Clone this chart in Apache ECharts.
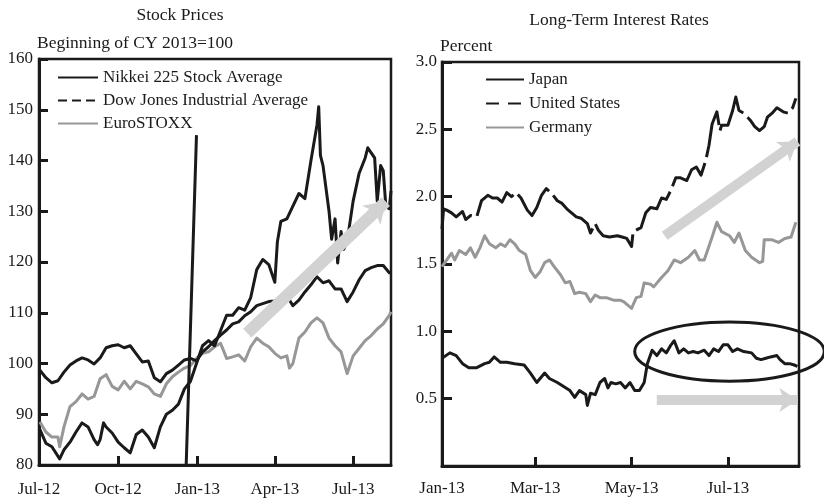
<!DOCTYPE html>
<html>
<head>
<meta charset="utf-8">
<script src="https://cdn.jsdelivr.net/npm/echarts@6/dist/echarts.min.js"></script>
<style>
html, body { margin: 0; padding: 0; background: #fff; }
#main { width: 824px; height: 502px; }
</style>
</head>
<body>
<div id="main"></div>
<script>
// ---- Stock Prices (Beginning of CY 2013 = 100) ----
var nikkei = [
  ['2012-07-02', 87], ['2012-07-09', 84.3], ['2012-07-16', 83.6], ['2012-07-25', 81.2], ['2012-07-30', 83],
  ['2012-08-06', 84.5], ['2012-08-13', 86.5], ['2012-08-20', 88.3], ['2012-08-27', 87.5], ['2012-09-03', 85],
  ['2012-09-07', 84], ['2012-09-10', 85], ['2012-09-14', 88.3], ['2012-09-17', 87.5], ['2012-09-24', 86.3],
  ['2012-10-01', 84.5], ['2012-10-08', 83.4], ['2012-10-15', 82.4], ['2012-10-22', 86], ['2012-10-29', 86.9],
  ['2012-11-05', 85.5], ['2012-11-12', 83.4], ['2012-11-19', 87.5], ['2012-11-26', 90], ['2012-12-03', 90.8],
  ['2012-12-10', 92], ['2012-12-17', 95], ['2012-12-24', 96.5], ['2012-12-31', 100], ['2013-01-07', 103.5],
  ['2013-01-14', 104.5], ['2013-01-21', 103.5], ['2013-01-28', 106.5], ['2013-02-04', 109.5], ['2013-02-11', 109.5],
  ['2013-02-18', 111], ['2013-02-25', 110.5], ['2013-03-04', 113], ['2013-03-11', 118.5], ['2013-03-18', 120.5],
  ['2013-03-25', 119.5], ['2013-04-01', 116], ['2013-04-04', 124], ['2013-04-08', 128], ['2013-04-15', 128.5],
  ['2013-04-22', 131], ['2013-04-29', 133.5], ['2013-05-06', 132.5], ['2013-05-13', 140], ['2013-05-20', 147],
  ['2013-05-22', 150.6], ['2013-05-24', 141], ['2013-05-27', 139], ['2013-06-03', 130], ['2013-06-06', 124.5],
  ['2013-06-10', 128.5], ['2013-06-13', 119.8], ['2013-06-17', 126], ['2013-06-20', 122.5], ['2013-06-24', 124],
  ['2013-07-01', 132], ['2013-07-08', 137.5], ['2013-07-15', 140.5], ['2013-07-18', 142.5], ['2013-07-22', 141.5],
  ['2013-07-26', 140.5], ['2013-07-29', 132], ['2013-08-02', 139], ['2013-08-05', 138], ['2013-08-08', 131],
  ['2013-08-12', 130.5], ['2013-08-14', 134]
];
var dow = [
  ['2012-07-02', 98.7], ['2012-07-09', 97.2], ['2012-07-16', 96.2], ['2012-07-23', 96.6], ['2012-07-30', 98.3],
  ['2012-08-06', 99.7], ['2012-08-13', 100.5], ['2012-08-20', 101.1], ['2012-08-27', 100.7], ['2012-09-03', 99.9],
  ['2012-09-10', 101.1], ['2012-09-17', 103.1], ['2012-09-24', 103.5], ['2012-10-01', 103.7], ['2012-10-08', 103.1],
  ['2012-10-15', 103.5], ['2012-10-22', 101.9], ['2012-10-29', 100.3], ['2012-11-05', 100.5], ['2012-11-12', 97.2],
  ['2012-11-19', 96.4], ['2012-11-26', 98], ['2012-12-03', 98.7], ['2012-12-10', 99.7], ['2012-12-17', 100.7],
  ['2012-12-24', 101], ['2012-12-31', 100.5], ['2013-01-07', 102.3], ['2013-01-14', 103.3], ['2013-01-21', 104.5],
  ['2013-01-28', 105.6], ['2013-02-04', 106.6], ['2013-02-11', 107.8], ['2013-02-18', 108.2], ['2013-02-25', 109.4],
  ['2013-03-04', 110.2], ['2013-03-11', 111.4], ['2013-03-18', 111.8], ['2013-03-25', 112.2], ['2013-04-01', 112.3],
  ['2013-04-08', 112.9], ['2013-04-15', 113.3], ['2013-04-22', 111.4], ['2013-04-29', 112.5], ['2013-05-06', 114.1],
  ['2013-05-13', 115.5], ['2013-05-20', 117.1], ['2013-05-27', 115.9], ['2013-06-03', 116.3], ['2013-06-10', 114.7],
  ['2013-06-17', 114.7], ['2013-06-24', 112.2], ['2013-07-01', 114.1], ['2013-07-08', 116.5], ['2013-07-15', 118.3],
  ['2013-07-22', 118.9], ['2013-07-29', 119.3], ['2013-08-05', 119.3], ['2013-08-12', 117.9], ['2013-08-14', 117.9]
];
var eurostoxx = [
  ['2012-07-02', 88.5], ['2012-07-09', 86.5], ['2012-07-16', 85.5], ['2012-07-23', 85.5], ['2012-07-25', 83.6],
  ['2012-07-30', 87.5], ['2012-08-06', 91.5], ['2012-08-13', 92.5], ['2012-08-20', 94], ['2012-08-27', 93],
  ['2012-09-03', 93.5], ['2012-09-10', 97], ['2012-09-17', 97.8], ['2012-09-24', 95.5], ['2012-10-01', 94.8],
  ['2012-10-08', 96.5], ['2012-10-15', 95], ['2012-10-22', 96.5], ['2012-10-29', 96], ['2012-11-05', 95.4],
  ['2012-11-12', 94], ['2012-11-19', 93.5], ['2012-11-26', 96], ['2012-12-03', 97.4], ['2012-12-10', 98.3],
  ['2012-12-17', 99.1], ['2012-12-24', 99.6], ['2012-12-31', 101], ['2013-01-07', 102], ['2013-01-14', 102.3],
  ['2013-01-21', 103.3], ['2013-01-28', 104], ['2013-02-04', 101], ['2013-02-11', 101.3], ['2013-02-18', 101.7],
  ['2013-02-25', 100.5], ['2013-03-04', 103.3], ['2013-03-11', 105], ['2013-03-18', 104], ['2013-03-25', 103.3],
  ['2013-04-01', 102], ['2013-04-08', 101.1], ['2013-04-15', 101.5], ['2013-04-18', 99.1], ['2013-04-22', 100],
  ['2013-04-29', 105], ['2013-05-06', 106.2], ['2013-05-13', 108], ['2013-05-20', 109], ['2013-05-27', 108],
  ['2013-06-03', 105], ['2013-06-10', 103.5], ['2013-06-17', 102.3], ['2013-06-24', 98], ['2013-07-01', 101.5],
  ['2013-07-08', 103], ['2013-07-15', 104.5], ['2013-07-22', 105.5], ['2013-07-29', 106.8], ['2013-08-05', 107.8],
  ['2013-08-12', 109.5], ['2013-08-14', 110.2]
];
var stockMarker = [['2012-12-19', 80], ['2012-12-31', 145]];
var stockArrow = [['2013-02-28', 106], ['2013-08-08', 131.9]];
var stockTicks = ['2012-07-01', '2012-10-01', '2013-01-01', '2013-04-01', '2013-07-01'];
var stockTickLabels = ['Jul-12', 'Oct-12', 'Jan-13', 'Apr-13', 'Jul-13'];

// ---- Long-Term Interest Rates (percent) ----
var japan = [
  ['2013-01-01', 0.80], ['2013-01-06', 0.84], ['2013-01-10', 0.82], ['2013-01-14', 0.76], ['2013-01-18', 0.73],
  ['2013-01-23', 0.73], ['2013-01-28', 0.76], ['2013-01-31', 0.77], ['2013-02-03', 0.81], ['2013-02-07', 0.77],
  ['2013-02-11', 0.77], ['2013-02-16', 0.76], ['2013-02-22', 0.75], ['2013-02-26', 0.69], ['2013-03-02', 0.62],
  ['2013-03-07', 0.69], ['2013-03-10', 0.65], ['2013-03-15', 0.62], ['2013-03-19', 0.59], ['2013-03-23', 0.56],
  ['2013-03-26', 0.51], ['2013-03-29', 0.56], ['2013-04-02', 0.53], ['2013-04-03', 0.45], ['2013-04-05', 0.54],
  ['2013-04-08', 0.53], ['2013-04-11', 0.62], ['2013-04-14', 0.65], ['2013-04-16', 0.58], ['2013-04-18', 0.62],
  ['2013-04-21', 0.61], ['2013-04-24', 0.62], ['2013-04-27', 0.58], ['2013-04-30', 0.62], ['2013-05-03', 0.56],
  ['2013-05-06', 0.56], ['2013-05-09', 0.62], ['2013-05-11', 0.76], ['2013-05-14', 0.86], ['2013-05-17', 0.82],
  ['2013-05-20', 0.87], ['2013-05-23', 0.84], ['2013-05-26', 0.90], ['2013-05-28', 0.93], ['2013-05-31', 0.84],
  ['2013-06-03', 0.87], ['2013-06-06', 0.84], ['2013-06-09', 0.85], ['2013-06-12', 0.84], ['2013-06-16', 0.86],
  ['2013-06-19', 0.82], ['2013-06-22', 0.87], ['2013-06-25', 0.85], ['2013-06-28', 0.90], ['2013-07-01', 0.90],
  ['2013-07-04', 0.85], ['2013-07-07', 0.87], ['2013-07-11', 0.85], ['2013-07-16', 0.84], ['2013-07-19', 0.80],
  ['2013-07-22', 0.79], ['2013-07-25', 0.80], ['2013-07-28', 0.81], ['2013-08-01', 0.82], ['2013-08-03', 0.79],
  ['2013-08-06', 0.76], ['2013-08-09', 0.76], ['2013-08-12', 0.75], ['2013-08-14', 0.74]
];
var unitedStates = [
  ['2013-01-01', 1.76], ['2013-01-02', 1.91], ['2013-01-04', 1.90], ['2013-01-07', 1.88], ['2013-01-10', 1.85],
  ['2013-01-14', 1.89], ['2013-01-16', 1.83], ['2013-01-19', 1.86], ['2013-01-23', 1.85], ['2013-01-24', 1.86],
  ['2013-01-26', 1.97], ['2013-01-30', 2.01], ['2013-02-02', 1.99], ['2013-02-05', 1.99], ['2013-02-08', 1.96],
  ['2013-02-11', 2.03], ['2013-02-14', 2.00], ['2013-02-17', 2.03], ['2013-02-20', 1.99], ['2013-02-24', 1.90],
  ['2013-02-27', 1.86], ['2013-03-02', 1.92], ['2013-03-05', 2.01], ['2013-03-08', 2.06], ['2013-03-11', 2.03],
  ['2013-03-15', 1.97], ['2013-03-18', 1.95], ['2013-03-21', 1.91], ['2013-03-24', 1.88], ['2013-03-27', 1.85],
  ['2013-03-30', 1.84], ['2013-04-03', 1.80], ['2013-04-05', 1.73], ['2013-04-08', 1.80], ['2013-04-10', 1.75],
  ['2013-04-13', 1.71], ['2013-04-17', 1.70], ['2013-04-22', 1.71], ['2013-04-25', 1.70], ['2013-04-28', 1.69],
  ['2013-05-01', 1.63], ['2013-05-02', 1.74], ['2013-05-07', 1.77], ['2013-05-10', 1.88], ['2013-05-13', 1.92],
  ['2013-05-17', 1.91], ['2013-05-20', 1.99], ['2013-05-23', 1.98], ['2013-05-26', 2.05], ['2013-05-29', 2.14],
  ['2013-06-01', 2.14], ['2013-06-05', 2.12], ['2013-06-08', 2.20], ['2013-06-11', 2.22], ['2013-06-14', 2.16],
  ['2013-06-17', 2.27], ['2013-06-19', 2.38], ['2013-06-21', 2.54], ['2013-06-24', 2.63], ['2013-06-26', 2.49],
  ['2013-06-27', 2.53], ['2013-07-01', 2.53], ['2013-07-04', 2.64], ['2013-07-06', 2.74], ['2013-07-08', 2.64],
  ['2013-07-11', 2.62], ['2013-07-15', 2.57], ['2013-07-18', 2.52], ['2013-07-21', 2.49], ['2013-07-24', 2.52],
  ['2013-07-26', 2.59], ['2013-07-29', 2.62], ['2013-08-01', 2.66], ['2013-08-05', 2.63], ['2013-08-08', 2.62],
  ['2013-08-11', 2.66], ['2013-08-13', 2.73]
];
var germany = [
  ['2013-01-01', 1.48], ['2013-01-04', 1.53], ['2013-01-07', 1.58], ['2013-01-09', 1.53], ['2013-01-12', 1.60],
  ['2013-01-16', 1.57], ['2013-01-19', 1.62], ['2013-01-22', 1.55], ['2013-01-25', 1.62], ['2013-01-28', 1.71],
  ['2013-01-31', 1.65], ['2013-02-04', 1.62], ['2013-02-07', 1.65], ['2013-02-10', 1.63], ['2013-02-13', 1.68],
  ['2013-02-16', 1.65], ['2013-02-19', 1.60], ['2013-02-23', 1.57], ['2013-02-26', 1.45], ['2013-03-01', 1.40],
  ['2013-03-04', 1.44], ['2013-03-07', 1.51], ['2013-03-10', 1.53], ['2013-03-13', 1.48], ['2013-03-17', 1.42],
  ['2013-03-20', 1.36], ['2013-03-23', 1.37], ['2013-03-26', 1.28], ['2013-03-29', 1.29], ['2013-04-02', 1.28],
  ['2013-04-05', 1.22], ['2013-04-08', 1.27], ['2013-04-11', 1.25], ['2013-04-15', 1.25], ['2013-04-20', 1.23],
  ['2013-04-24', 1.23], ['2013-04-26', 1.22], ['2013-05-01', 1.17], ['2013-05-04', 1.25], ['2013-05-07', 1.26],
  ['2013-05-09', 1.36], ['2013-05-13', 1.35], ['2013-05-15', 1.33], ['2013-05-20', 1.40], ['2013-05-24', 1.45],
  ['2013-05-28', 1.53], ['2013-06-01', 1.51], ['2013-06-06', 1.55], ['2013-06-10', 1.60], ['2013-06-13', 1.53],
  ['2013-06-16', 1.53], ['2013-06-21', 1.70], ['2013-06-24', 1.81], ['2013-06-27', 1.74], ['2013-07-02', 1.71],
  ['2013-07-05', 1.66], ['2013-07-08', 1.73], ['2013-07-12', 1.60], ['2013-07-16', 1.55], ['2013-07-21', 1.51],
  ['2013-07-23', 1.52], ['2013-07-24', 1.68], ['2013-07-29', 1.68], ['2013-08-02', 1.66], ['2013-08-06', 1.69],
  ['2013-08-10', 1.70], ['2013-08-13', 1.81]
];
var usArrow = [['2013-05-22', 1.71], ['2013-08-14', 2.41]];
var japanArrow = [['2013-05-17', 0.49], ['2013-08-14', 0.49]];
var japanRing = { center: ['2013-07-02', 0.85], halfDays: 60, halfValue: 0.22 };
var rateTicks = ['2013-01-01', '2013-03-01', '2013-05-01', '2013-07-01'];
var rateTickLabels = ['Jan-13', 'Mar-13', 'May-13', 'Jul-13'];

var INK = '#1a1a1a';
var GREY = '#979797';
var ARROW = '#d2d2d2';
var FONT = 'Liberation Serif';

function ts(s) { return echarts.time.parse(s).getTime(); }
function toXY(list) { return list.map(function (p) { return [ts(p[0]), p[1]]; }); }
function coordPair(p) { return [{ coord: [ts(p[0][0]), p[0][1]] }, { coord: [ts(p[1][0]), p[1][1]] }]; }

var chart = echarts.init(document.getElementById('main'), null, { renderer: 'canvas' });

// dates are plotted on a numeric axis (ms) so tick positions can be given exactly
function dateAxis(grid, ticks, labels, min, max, margin) {
  var tickVals = ticks.map(ts);
  return {
    type: 'value', gridIndex: grid, min: ts(min), max: ts(max),
    axisLine: { show: true, lineStyle: { color: INK, width: 3 } },
    axisTick: { show: true, inside: true, length: 9, lineStyle: { color: INK, width: 3 }, customValues: tickVals.slice(1) },
    axisLabel: {
      customValues: tickVals, color: INK, fontFamily: FONT, fontSize: 17, margin: margin,
      formatter: function (v) { var i = tickVals.indexOf(v); return i < 0 ? '' : labels[i]; }
    },
    splitLine: { show: false }
  };
}

function lineSeries(name, data, x, y, color, extra) {
  var s = {
    name: name, type: 'line', xAxisIndex: x, yAxisIndex: y, data: toXY(data),
    showSymbol: false, symbol: 'none', z: 3, animation: false,
    lineStyle: { color: color, width: 3, join: 'round' }, itemStyle: { color: color }
  };
  for (var k in extra) s[k] = extra[k];
  return s;
}

function arrowSeries(x, y, pair, width) {
  return {
    type: 'line', xAxisIndex: x, yAxisIndex: y, data: [], z: 1, animation: false,
    markLine: {
      silent: true, symbol: ['none', 'arrow'], symbolSize: width + 8, animation: false,
      label: { show: false },
      lineStyle: { color: ARROW, width: width, type: 'solid', opacity: 1 },
      itemStyle: { color: ARROW },
      emphasis: { disabled: true },
      data: [coordPair(pair)]
    }
  };
}

var legendText = { color: INK, fontFamily: FONT, fontSize: 17 };
var titleFont = '17.5px "Liberation Serif"';

chart.setOption({
  backgroundColor: '#fff',
  animation: false,
  grid: [
    { left: 39, right: 433, top: 59, bottom: 37, show: true, borderColor: INK, borderWidth: 2.5 },
    { left: 442, right: 25, top: 62, bottom: 36, show: true, borderColor: INK, borderWidth: 2.5 }
  ],
  xAxis: [
    dateAxis(0, stockTicks, stockTickLabels, '2012-07-01', '2013-08-14', 16),
    dateAxis(1, rateTicks, rateTickLabels, '2013-01-01', '2013-08-15', 14)
  ],
  yAxis: [
    {
      type: 'value', gridIndex: 0, min: 80, max: 160, interval: 10,
      axisLine: { show: true, lineStyle: { color: INK, width: 3 } },
      axisTick: { show: true, inside: true, length: 9, lineStyle: { color: INK, width: 3 } },
      axisLabel: { color: INK, fontFamily: FONT, fontSize: 17, margin: 6 },
      splitLine: { show: false }
    },
    {
      type: 'value', gridIndex: 1, min: 0, max: 3, interval: 0.5,
      axisLine: { show: true, lineStyle: { color: INK, width: 3 } },
      axisTick: { show: true, inside: true, length: 10, lineStyle: { color: INK, width: 3 } },
      axisLabel: {
        color: INK, fontFamily: FONT, fontSize: 17, margin: 5,
        formatter: function (v) { return v === 0 ? '' : v.toFixed(1); }
      },
      splitLine: { show: false }
    }
  ],
  legend: [
    {
      left: 57, top: 69, padding: 0, orient: 'vertical', itemWidth: 40, itemHeight: 14, itemGap: 6,
      selectedMode: false, textStyle: legendText, itemStyle: { opacity: 0 },
      data: [
        { name: 'Nikkei 225 Stock Average' },
        { name: 'Dow Jones Industrial Average', lineStyle: { type: [9, 5] } },
        { name: 'EuroSTOXX' }
      ]
    },
    {
      left: 485, top: 71, padding: 0, orient: 'vertical', itemWidth: 38, itemHeight: 14, itemGap: 7,
      selectedMode: false, textStyle: legendText, itemStyle: { opacity: 0 },
      data: [
        { name: 'Japan' },
        { name: 'United States', lineStyle: { type: [13, 9] } },
        { name: 'Germany' }
      ]
    }
  ],
  graphic: [
    { type: 'text', id: 't1', x: 180, y: 15, style: { text: 'Stock Prices', fill: INK, font: titleFont, align: 'center', verticalAlign: 'middle' } },
    { type: 'text', id: 't2', x: 37, y: 43, style: { text: 'Beginning of CY 2013=100', fill: INK, font: titleFont, align: 'left', verticalAlign: 'middle' } },
    { type: 'text', id: 't3', x: 619, y: 20, style: { text: 'Long-Term Interest Rates', fill: INK, font: titleFont, align: 'center', verticalAlign: 'middle' } },
    { type: 'text', id: 't4', x: 440, y: 46, style: { text: 'Percent', fill: INK, font: titleFont, align: 'left', verticalAlign: 'middle' } }
  ],
  series: [
    arrowSeries(0, 0, stockArrow, 12),
    arrowSeries(1, 1, usArrow, 10),
    arrowSeries(1, 1, japanArrow, 10),
    lineSeries('', stockMarker, 0, 0, INK, { z: 4, silent: true }),
    lineSeries('EuroSTOXX', eurostoxx, 0, 0, GREY),
    lineSeries('Dow Jones Industrial Average', dow, 0, 0, INK),
    lineSeries('Nikkei 225 Stock Average', nikkei, 0, 0, INK),
    lineSeries('Germany', germany, 1, 1, GREY),
    lineSeries('United States', unitedStates, 1, 1, INK, { lineStyle: { color: INK, width: 3, join: 'round', type: [60, 6] } }),
    lineSeries('Japan', japan, 1, 1, INK)
  ]
});

// ellipse around Japan's recent range, placed in data units
var c0 = chart.convertToPixel({ gridIndex: 1 }, [ts(japanRing.center[0]), japanRing.center[1]]);
var c1 = chart.convertToPixel({ gridIndex: 1 }, [ts(japanRing.center[0]) + japanRing.halfDays * 86400000, japanRing.center[1] + japanRing.halfValue]);
chart.setOption({
  graphic: [
    { type: 'ellipse', id: 'ring', z: 10, silent: true,
      shape: { cx: c0[0], cy: c0[1], rx: c1[0] - c0[0], ry: c0[1] - c1[1] },
      style: { fill: 'transparent', stroke: INK, lineWidth: 3 } }
  ]
});
</script>
</body>
</html>
